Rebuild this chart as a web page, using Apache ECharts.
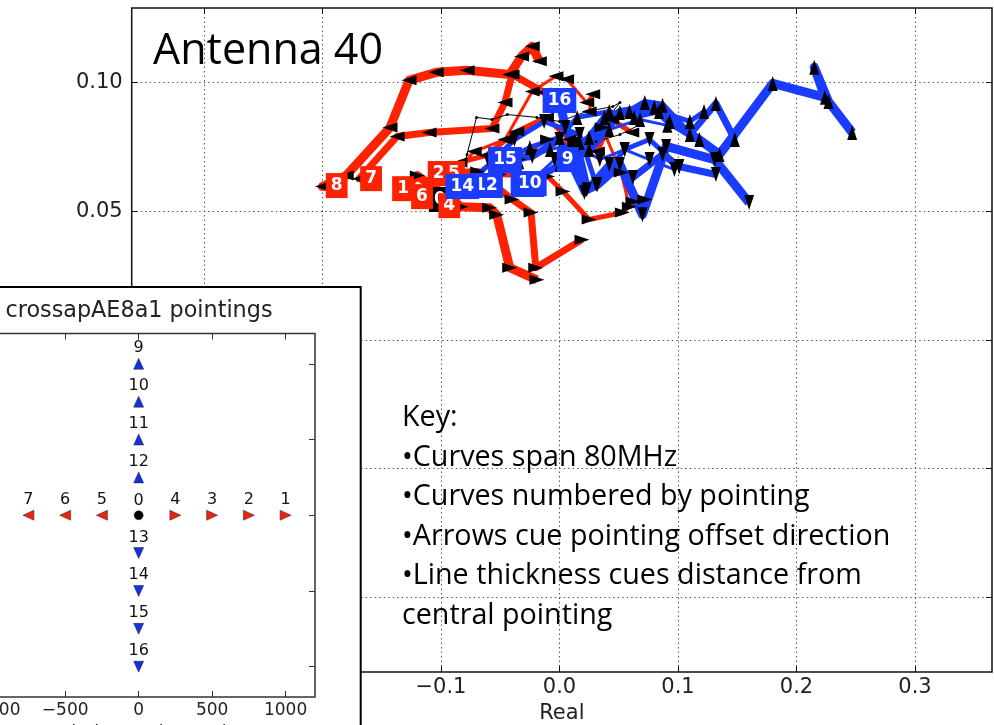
<!DOCTYPE html>
<html>
<head>
<meta charset="utf-8">
<title>Antenna 40</title>
<script src="https://cdn.jsdelivr.net/npm/echarts@6/dist/echarts.min.js"></script>
<style>
  html, body { margin: 0; padding: 0; background: #ffffff; }
  #chart { width: 994px; height: 725px; }
</style>
</head>
<body>
<div id="chart"></div>
<script>
// Pointings 0..16 and their offsets from the central pointing (arcsec)
const pointingIds = [0, 1, 2, 3, 4, 5, 6, 7, 8, 9, 10, 11, 12, 13, 14, 15, 16];
const offsetRA  = [0, 1000, 750, 500, 250, -250, -500, -750, -1000, 0, 0, 0, 0, 0, 0, 0, 0];
const offsetDec = [0, 0, 0, 0, 0, 0, 0, 0, 0, 1000, 750, 500, 250, -250, -500, -750, -1000];

// Real part of the response across the 80 MHz band, one list per pointing
const realParts = [
  [-0.101, -0.084, -0.078, -0.070, -0.057, -0.044, -0.019, 0.000, 0.023, 0.045, 0.051, 0.040, 0.031, 0.051, 0.068],
  [-0.132, -0.120, -0.083, -0.059, -0.053, -0.042, -0.019],
  [-0.102, -0.069, -0.040, -0.024, -0.020, 0.019],
  [-0.080, -0.051, -0.010, 0.003, 0.025, 0.053, 0.062],
  [-0.093, -0.063, -0.034, -0.010, 0.013, 0.036, 0.052, 0.059, 0.072],
  [-0.089, -0.072, -0.046, -0.023, -0.003, 0.006, 0.023, 0.028, 0.025],
  [-0.116, -0.084, -0.062, -0.036, -0.011, 0.008, 0.032, 0.044, 0.061],
  [-0.159, -0.169, -0.137, -0.110, -0.057, -0.046, -0.040, -0.013, 0.004],
  [-0.188, -0.200, -0.180, -0.143, -0.127, -0.104, -0.078, -0.042, -0.032, -0.023, -0.017],
  [0.007, 0.025, 0.051, 0.080, 0.093, 0.118, 0.135, 0.180, 0.224, 0.215, 0.227, 0.247],
  [-0.025, 0.000, 0.025, 0.038, 0.059, 0.072, 0.087, 0.110, 0.132, 0.148],
  [-0.046, -0.025, 0.000, 0.015, 0.042, 0.063, 0.084, 0.110, 0.122],
  [-0.062, -0.034, -0.008, 0.017, 0.042, 0.068, 0.091],
  [-0.027, -0.004, 0.013, 0.034, 0.055, 0.076, 0.097],
  [-0.082, -0.059, -0.038, -0.013, 0.017, 0.031, 0.055, 0.076, 0.101],
  [-0.046, -0.023, 0.000, 0.021, 0.042, 0.062, 0.087, 0.101, 0.132],
  [0.000, 0.005, 0.015, 0.023, 0.032, 0.051, 0.070, 0.090, 0.131, 0.160]
];

// Imaginary part, matching realParts point for point
const imagParts = [
  [0.0546, 0.0631, 0.0721, 0.0865, 0.0857, 0.0876, 0.0865, 0.0849, 0.0888, 0.0907, 0.0923, 0.0857, 0.0771, 0.0798, 0.0837],
  [0.0588, 0.0639, 0.0518, 0.0514, 0.0487, 0.0281, 0.0234],
  [0.0647, 0.0655, 0.0546, 0.0495, 0.0281, 0.0390],
  [0.0596, 0.0643, 0.0635, 0.0577, 0.0468, 0.0495, 0.0538],
  [0.0522, 0.0631, 0.0701, 0.0779, 0.0760, 0.0826, 0.0651, 0.0518, 0.0546],
  [0.0647, 0.0732, 0.0779, 0.0966, 0.1025, 0.1013, 0.0923, 0.0955, 0.0888],
  [0.0557, 0.0690, 0.0717, 0.0810, 0.0865, 0.0779, 0.0732, 0.0857, 0.0806],
  [0.0627, 0.0627, 0.0791, 0.0806, 0.0822, 0.0923, 0.1032, 0.0962, 0.0943],
  [0.0600, 0.0596, 0.0639, 0.0826, 0.1009, 0.1040, 0.1048, 0.1032, 0.1102, 0.1141, 0.1083],
  [0.0701, 0.0740, 0.0884, 0.0904, 0.0849, 0.0779, 0.0721, 0.0997, 0.0943, 0.1060, 0.0927, 0.0806],
  [0.0608, 0.0682, 0.0787, 0.0865, 0.0888, 0.0923, 0.0912, 0.0798, 0.0919, 0.0779],
  [0.0697, 0.0748, 0.0787, 0.0865, 0.0888, 0.0865, 0.0888, 0.0849, 0.0888],
  [0.0600, 0.0693, 0.0740, 0.0767, 0.0818, 0.0857, 0.0834],
  [0.0604, 0.0701, 0.0760, 0.0701, 0.0740, 0.0701, 0.0662],
  [0.0596, 0.0682, 0.0779, 0.0849, 0.0798, 0.0604, 0.0740, 0.0779, 0.0674],
  [0.0701, 0.0713, 0.0779, 0.0573, 0.0682, 0.0631, 0.0721, 0.0674, 0.0643],
  [0.0931, 0.0826, 0.0740, 0.0584, 0.0604, 0.0682, 0.0487, 0.0752, 0.0701, 0.0534]
];

// Axis ticks
const realTicks = [-0.3, -0.2, -0.1, 0.0, 0.1, 0.2, 0.3];
const imagTicks = [-0.10, -0.05, 0.00, 0.05, 0.10];
const offsetTicks = [-1000, -500, 0, 500, 1000];

// Drawing order: RA curves, centre, then Dec curves; number boxes stacked as listed
const curveOrder = [1, 2, 3, 4, 5, 6, 7, 8, 0, 9, 10, 11, 12, 13, 14, 15, 16];
const boxOrder = [0, 1, 6, 4, 3, 2, 5, 8, 7, 13, 11, 12, 14, 15, 10, 9, 16];

const RED = '#ff2200';
const BLUE = '#1a3cff';
const INSET_RED = '#ee2211';
const INSET_BLUE = '#1133dd';
const TICK_FONT = 'DejaVu Sans';

function colorOf(i) {
  if (offsetRA[i] !== 0) return RED;
  if (offsetDec[i] !== 0) return BLUE;
  return '#000000';
}
function insetColorOf(i) {
  if (offsetRA[i] !== 0) return INSET_RED;
  if (offsetDec[i] !== 0) return INSET_BLUE;
  return '#000000';
}
// Triangle points along the offset direction
function arrowRotation(i) {
  if (offsetRA[i] > 0) return -90;
  if (offsetRA[i] < 0) return 90;
  if (offsetDec[i] < 0) return 180;
  return 0;
}
// Thicker lines for pointings further from the centre
function lineWidthOf(i) {
  return 1 + 8 * Math.hypot(offsetRA[i], offsetDec[i]) / 1000;
}
const minus = s => s.replace('-', '\u2212');

const chart = echarts.init(document.getElementById('chart'), null, { renderer: 'canvas' });

const curveSeries = curveOrder.map(i => ({
  type: 'line',
  name: 'pointing ' + i,
  xAxisIndex: 0,
  yAxisIndex: 0,
  data: realParts[i].map((re, k) => [re, imagParts[i][k]]),
  lineStyle: { color: colorOf(i), width: lineWidthOf(i), join: 'round', opacity: 1 },
  itemStyle: { color: '#000000', opacity: 1 },
  symbol: i === 0 ? 'circle' : 'triangle',
  symbolSize: i === 0 ? 3 : [10, 15],
  symbolRotate: arrowRotation(i),
  showSymbol: true,
  z: 3,
  silent: true,
  animation: false
}));

const boxSeries = boxOrder.map((i, k) => ({
  type: 'scatter',
  xAxisIndex: 0,
  yAxisIndex: 0,
  data: [[realParts[i][0], imagParts[i][0]]],
  symbolSize: 1,
  itemStyle: { color: 'rgba(0,0,0,0)', opacity: 1 },
  label: {
    show: true,
    position: 'inside',
    opacity: 1,
    formatter: String(pointingIds[i]),
    backgroundColor: colorOf(i),
    color: '#ffffff',
    fontFamily: TICK_FONT,
    fontWeight: 'bold',
    fontSize: 17,
    lineHeight: 17,
    padding: [4, 5]
  },
  z: 10 + k,
  silent: true,
  animation: false
}));

const insetSeries = {
  type: 'scatter',
  xAxisIndex: 1,
  yAxisIndex: 1,
  z: 62,
  silent: true,
  animation: false,
  data: pointingIds.map(i => ({
    value: [offsetRA[i], offsetDec[i]],
    symbol: i === 0 ? 'circle' : 'triangle',
    symbolSize: i === 0 ? 9 : [10, 11],
    symbolRotate: arrowRotation(i),
    itemStyle: { color: insetColorOf(i), borderColor: '#222222', borderWidth: 0.5, opacity: 1 }
  })),
  label: {
    show: true,
    position: 'top',
    distance: 2,
    opacity: 1,
    formatter: p => String(pointingIds[p.dataIndex]),
    color: '#111111',
    fontFamily: TICK_FONT,
    fontSize: 16
  }
};

const dotted = { type: [1.5, 3], color: '#555555', width: 1 };
const hiddenLine = { show: false, onZero: false };

const option = {
  backgroundColor: '#ffffff',
  animation: false,
  grid: [
    {
      left: 131.7, top: 8, right: 2, bottom: 53,
      show: true, borderColor: '#111111', borderWidth: 1.5,
      backgroundColor: 'transparent',
      containLabel: false, outerBoundsMode: 'none'
    },
    {
      left: -37.7, top: 333.5, width: 352.7, height: 363.5,
      show: true, borderColor: '#333333', borderWidth: 1.5,
      backgroundColor: 'transparent',
      containLabel: false, outerBoundsMode: 'none', z: 60
    }
  ],
  xAxis: [
    {
      gridIndex: 0, type: 'value', position: 'bottom',
      min: -0.361, max: 0.365,
      axisLine: hiddenLine,
      axisTick: { show: true, inside: true, length: 6, customValues: realTicks, lineStyle: { color: '#111111', width: 1 } },
      axisLabel: {
        show: true, customValues: realTicks, margin: 5,
        formatter: v => minus(Number(v).toFixed(1)),
        fontFamily: TICK_FONT, fontSize: 21, color: '#222222'
      },
      splitLine: { show: true, lineStyle: dotted },
      name: 'Real', nameLocation: 'middle', nameGap: 30,
      nameTextStyle: { fontFamily: TICK_FONT, fontSize: 21, color: '#222222' }
    },
    {
      gridIndex: 1, type: 'value', position: 'bottom', z: 60,
      min: -1200, max: 1200,
      axisLine: hiddenLine,
      axisTick: { show: true, inside: true, length: 6, customValues: offsetTicks, lineStyle: { color: '#333333', width: 1 } },
      axisLabel: {
        show: true, customValues: offsetTicks, margin: 5,
        formatter: v => minus(String(v)),
        fontFamily: TICK_FONT, fontSize: 17, color: '#222222'
      },
      splitLine: { show: false },
      name: 'Relative RA (arcsec)', nameLocation: 'middle', nameGap: 26,
      nameTextStyle: { fontFamily: TICK_FONT, fontSize: 18, color: '#222222' }
    },
    {
      gridIndex: 0, type: 'value', position: 'top',
      min: -0.361, max: 0.365,
      axisLine: hiddenLine,
      axisTick: { show: true, inside: true, length: 6, customValues: realTicks, lineStyle: { color: '#111111', width: 1 } },
      axisLabel: { show: false },
      splitLine: { show: false }
    },
    {
      gridIndex: 1, type: 'value', position: 'top', z: 60,
      min: -1200, max: 1200,
      axisLine: hiddenLine,
      axisTick: { show: true, inside: true, length: 6, customValues: offsetTicks, lineStyle: { color: '#333333', width: 1 } },
      axisLabel: { show: false },
      splitLine: { show: false }
    }
  ],
  yAxis: [
    {
      gridIndex: 0, type: 'value', position: 'left',
      min: -0.129, max: 0.129,
      axisLine: hiddenLine,
      axisTick: { show: true, inside: true, length: 6, customValues: imagTicks, lineStyle: { color: '#111111', width: 1 } },
      axisLabel: {
        show: true, customValues: imagTicks, margin: 9,
        formatter: v => minus(Number(v).toFixed(2)),
        fontFamily: TICK_FONT, fontSize: 21, color: '#222222'
      },
      splitLine: { show: true, lineStyle: dotted }
    },
    {
      gridIndex: 1, type: 'value', position: 'left', z: 60,
      min: -1200, max: 1200,
      axisLine: hiddenLine,
      axisTick: { show: true, inside: true, length: 6, customValues: offsetTicks, lineStyle: { color: '#333333', width: 1 } },
      axisLabel: {
        show: true, customValues: offsetTicks, margin: 5,
        formatter: v => minus(String(v)),
        fontFamily: TICK_FONT, fontSize: 17, color: '#222222'
      },
      splitLine: { show: false }
    },
    {
      gridIndex: 0, type: 'value', position: 'right',
      min: -0.129, max: 0.129,
      axisLine: hiddenLine,
      axisTick: { show: true, inside: true, length: 6, customValues: imagTicks, lineStyle: { color: '#111111', width: 1 } },
      axisLabel: { show: false },
      splitLine: { show: false }
    },
    {
      gridIndex: 1, type: 'value', position: 'right', z: 60,
      min: -1200, max: 1200,
      axisLine: hiddenLine,
      axisTick: { show: true, inside: true, length: 6, customValues: offsetTicks, lineStyle: { color: '#333333', width: 1 } },
      axisLabel: { show: false },
      splitLine: { show: false }
    }
  ],
  graphic: [
    {
      type: 'text', x: 153, y: 52, z: 40, silent: true,
      style: {
        text: 'Antenna 40',
        fill: '#000000',
        font: '43px "Open Sans"',
        align: 'left', verticalAlign: 'middle',
        textAlign: 'left', textVerticalAlign: 'middle'
      }
    },
    {
      type: 'text', x: 402, y: 398, z: 40, silent: true,
      style: {
        text: 'Key:\n\u2022Curves span 80MHz\n\u2022Curves numbered by pointing\n\u2022Arrows cue pointing offset direction\n\u2022Line thickness cues distance from\ncentral pointing',
        fill: '#000000',
        font: '28.7px "Open Sans"',
        lineHeight: 39.6,
        align: 'left', verticalAlign: 'top',
        textAlign: 'left', textVerticalAlign: 'top'
      }
    },
    {
      type: 'rect', z: 50, silent: true,
      shape: { x: -10, y: 287, width: 370.7, height: 460 },
      style: { fill: '#ffffff', stroke: '#000000', lineWidth: 2 }
    },
    {
      type: 'text', x: 139, y: 311, z: 61, silent: true,
      style: {
        text: 'crossapAE8a1 pointings',
        fill: '#222222',
        font: '22.3px "DejaVu Sans"',
        align: 'center', verticalAlign: 'middle',
        textAlign: 'center', textVerticalAlign: 'middle'
      }
    }
  ],
  series: [...curveSeries, ...boxSeries, insetSeries]
};

chart.setOption(option);
</script>
</body>
</html>
